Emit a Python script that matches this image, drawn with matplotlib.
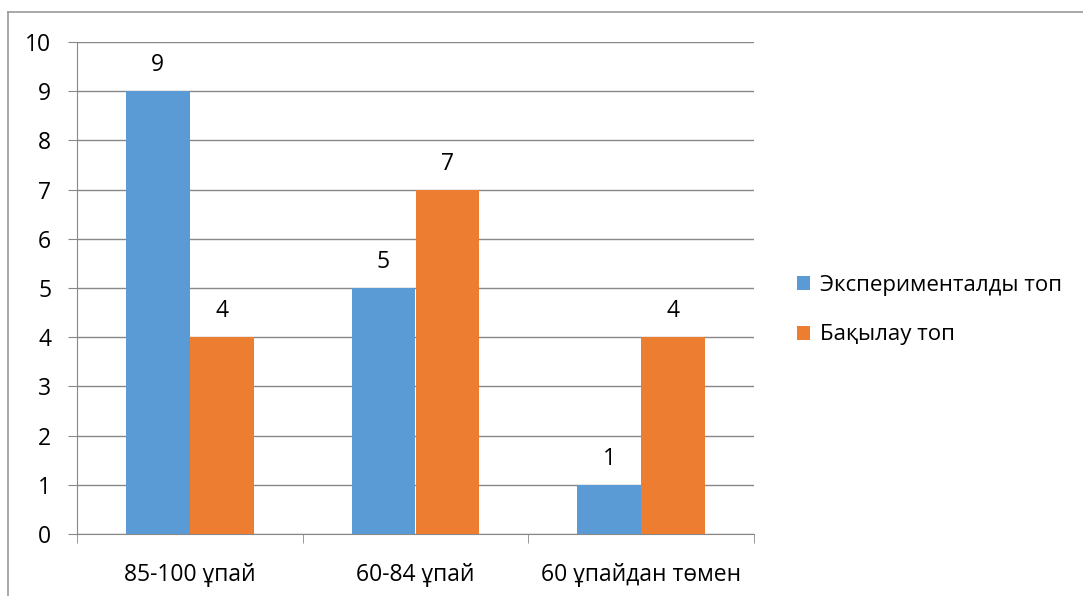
import numpy as np
import matplotlib.pyplot as plt
from matplotlib.lines import Line2D

plt.rcParams['font.family'] = ['Open Sans', 'DejaVu Sans']

categories = ['85-100 ұпай', '60-84 ұпай', '60 ұпайдан төмен']
experimental = [9, 5, 1]
control = [4, 7, 4]
series_names = ['Экспериментaлды топ', 'Бақылау топ']
yticks = list(range(0, 11))

blue = '#5B9BD5'
orange = '#ED7D31'
grid_col = '#888888'
fs = 16.5

W, H = 1083, 596
fig = plt.figure(figsize=(W / 100, H / 100), dpi=100)
ax = fig.add_axes([77 / W, 1 - 534 / H, (754 - 77) / W, (534 - 42) / H])

x = np.arange(len(categories))
bw = 0.2835
b1 = ax.bar(x - bw / 2, experimental, bw, color=blue, label=series_names[0], zorder=3)
b2 = ax.bar(x + bw / 2, control, bw, color=orange, label=series_names[1], zorder=3)

for bars in (b1, b2):
    for r in bars:
        ax.annotate(str(int(r.get_height())), (r.get_x() + r.get_width() / 2, r.get_height()),
                    xytext=(0, 14), textcoords='offset pixels', ha='center', va='bottom',
                    fontsize=fs, color='black')

ax.set_xlim(-0.5, len(categories) - 0.5)
ax.set_ylim(0, 10)
ax.set_yticks(yticks)
ax.yaxis.grid(True, color=grid_col, lw=1, zorder=0)
ax.set_axisbelow(True)

for s in ['top', 'right']:
    ax.spines[s].set_visible(False)
ax.spines['left'].set_color(grid_col)
ax.spines['bottom'].set_color(grid_col)

ax.set_xticks(x)
ax.set_xticklabels(categories, fontsize=fs)
ax.tick_params(axis='x', length=0, pad=21)
ax.set_xticks(np.arange(-0.5, len(categories)), minor=True)
ax.tick_params(axis='x', which='minor', length=6.5, color=grid_col, direction='out')
ax.tick_params(axis='y', length=6.5, color=grid_col, labelsize=fs, pad=12)

ax.legend(loc='center left', bbox_to_anchor=(777 / W, 1 - 310 / H), bbox_transform=fig.transFigure,
          frameon=False, fontsize=16, handlelength=0.6, handleheight=0.6, handletextpad=0.45,
          labelspacing=1.3)

# outer chart border
fig.add_artist(Line2D([8 / W, 1.0], [1 - 11.5 / H] * 2, color='#999999', lw=1.2))
fig.add_artist(Line2D([8 / W] * 2, [0, 1 - 11.5 / H], color='#999999', lw=1.2))

fig.savefig('out.png', dpi=100)
